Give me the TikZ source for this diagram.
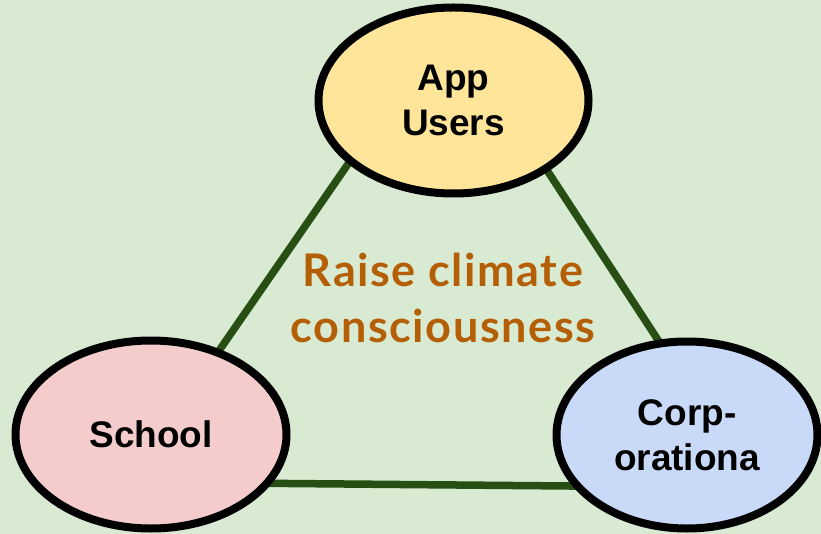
\documentclass[tikz,border=0pt]{standalone}
\usepackage{fontspec}
\setmainfont{Liberation Sans}
\newfontfamily\latofont[LetterSpace=3.5]{Lato}
\usetikzlibrary{shapes.geometric,backgrounds}
\definecolor{bgcol}{HTML}{D9EAD3}
\definecolor{appcol}{HTML}{FFE599}
\definecolor{schoolcol}{HTML}{F4CCCC}
\definecolor{corpcol}{HTML}{C9DAF8}
\definecolor{linkcol}{HTML}{274E13}
\definecolor{goalcol}{HTML}{B45F06}
\tikzset{
  party/.style={ellipse, draw=black, line width=8pt, inner sep=0pt, align=center,
    font=\fontsize{37}{45}\selectfont\bfseries},
  link/.style={draw=linkcol, line width=7.5pt, shorten <=-6pt, shorten >=-6pt},
  goal/.style={text=goalcol, inner sep=0pt, anchor=base,
    font=\latofont\bfseries\fontsize{45}{55}\selectfont}
}
\begin{document}
\begin{tikzpicture}[x=1pt,y=-1pt]
\useasboundingbox (0,0) rectangle (821,534);
\node[party, fill=appcol, minimum width=270pt, minimum height=186pt] (app) at (453.5,100.5) {App\\Users};
\node[party, fill=schoolcol, minimum width=271pt, minimum height=188pt] (school) at (151,434.5) {School};
\node[party, fill=corpcol, minimum width=261pt, minimum height=187pt] (corp) at (687,435) {Corp-\\orationa};
\node[goal] (raise) at (443,287) {Raise climate};
\node[goal] (consc) at (443,342) {consciousness};
\begin{scope}[on background layer]
  \fill[bgcol] (0,0) rectangle (821,534);
  \draw[link] (app.211.2) -- (school.51.4);
  \draw[link] (app.-37.5) -- (corp.107);
  \draw[link] (school.-22.6) -- (corp.204.9);
\end{scope}
\end{tikzpicture}
\end{document}
